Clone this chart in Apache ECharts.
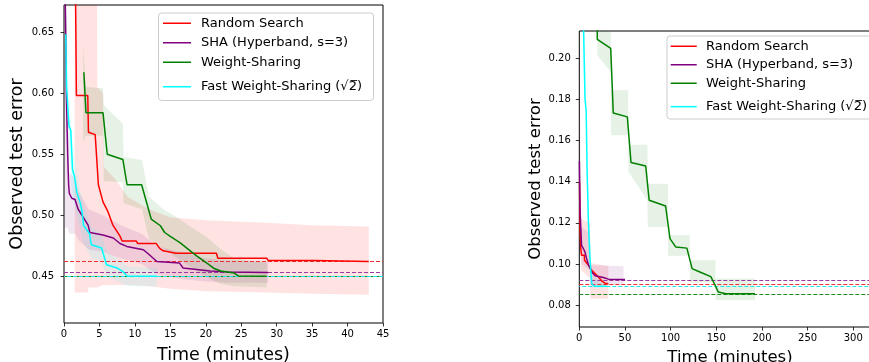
<!DOCTYPE html>
<html>
<head>
<meta charset="utf-8">
<script src="https://cdn.jsdelivr.net/npm/echarts@6/dist/echarts.min.js"></script>
<style>html,body{margin:0;padding:0;background:#fff}#c{width:869px;height:362px}</style>
</head>
<body>
<div id="c"></div>
<script>
// ---------- DATA ----------
const seriesNames = ['Random Search', 'SHA (Hyperband, s=3)', 'Weight-Sharing', 'Fast Weight-Sharing (\u221A2\u0305)'];

const leftXRange = [0, 45];
const leftYRange = [0.412, 0.672];
const rightXRange = [0, 330];
const rightYRange = [0.0693, 0.2134];

const leftXTicks = [0, 5, 10, 15, 20, 25, 30, 35, 40, 45];
const leftYTicks = [0.45, 0.50, 0.55, 0.60, 0.65];
const rightXTicks = [0, 50, 100, 150, 200, 250, 300];
const rightYTicks = [0.08, 0.10, 0.12, 0.14, 0.16, 0.18, 0.20];

// left panel: [time, error]
const leftRandomSearch = [[1.6,0.70],[1.75,0.598],[3.35,0.598],[3.45,0.568],[4.4,0.566],[4.85,0.525],[5.5,0.511],[6.2,0.503],[6.9,0.492],[7.9,0.483],[8.2,0.479],[10.2,0.479],[10.4,0.477],[13.0,0.477],[13.5,0.473],[14.0,0.471],[15.8,0.469],[21.5,0.469],[21.7,0.465],[28.6,0.465],[28.8,0.463],[35.4,0.463],[35.5,0.4623],[43.0,0.4623]];
const leftSHA = [[0.05,0.72],[0.24,0.65],[0.33,0.60],[0.52,0.55],[0.65,0.525],[0.75,0.518],[1.1,0.514],[1.55,0.513],[2.0,0.505],[3.4,0.492],[3.65,0.486],[5.5,0.484],[6.95,0.4815],[7.9,0.477],[8.85,0.4746],[11.2,0.4719],[12.0,0.468],[13.1,0.4623],[16.3,0.461],[16.8,0.457],[20.6,0.4545],[22.9,0.4538],[28.8,0.4533]];
const leftWS = [[2.8,0.617],[3.1,0.584],[5.5,0.584],[6.1,0.55],[8.3,0.5457],[8.9,0.525],[10.95,0.525],[12.3,0.497],[13.6,0.4915],[14.2,0.486],[15.0,0.4828],[16.4,0.4775],[17.9,0.4705],[18.8,0.4664],[20.3,0.4603],[21.2,0.4565],[22.1,0.4545],[24.0,0.4528],[24.6,0.4505],[28.6,0.4503]];
const leftFastWS = [[0.25,0.648],[0.35,0.606],[0.6,0.605],[0.7,0.573],[0.95,0.570],[1.2,0.5375],[1.5,0.531],[1.8,0.519],[2.3,0.510],[2.55,0.503],[2.75,0.492],[3.6,0.485],[3.85,0.476],[5.3,0.4733],[6.0,0.4596],[7.5,0.4569],[8.3,0.4541],[8.9,0.4505],[13.1,0.4503]];

// left bands: [time, lower, upper]
const leftRandomSearchBand = [[1.5,0.437,0.75],[3.4,0.437,0.75],[3.45,0.441,0.75],[4.6,0.441,0.75],[4.7,0.441,0.605],[5.5,0.443,0.60],[5.6,0.443,0.54],[7.2,0.443,0.53],[9,0.443,0.515],[12,0.442,0.505],[15,0.440,0.4985],[20,0.438,0.496],[28.6,0.437,0.494],[35,0.436,0.492],[43,0.435,0.491]];
const leftSHABand = [[0.1,0.49,0.75],[0.5,0.49,0.6],[0.7,0.485,0.535],[1.6,0.485,0.53],[2.0,0.48,0.52],[3.5,0.472,0.505],[5.5,0.47,0.50],[8,0.465,0.492],[11,0.46,0.485],[13,0.452,0.475],[16.5,0.448,0.47],[20,0.446,0.465],[23,0.445,0.463],[28.8,0.445,0.462]];
const leftWSBand = [[2.7,0.56,0.64],[3.1,0.565,0.605],[5.5,0.565,0.604],[5.6,0.528,0.59],[8.3,0.527,0.575],[8.4,0.51,0.548],[11.0,0.505,0.545],[12.0,0.48,0.515],[14,0.473,0.505],[16,0.465,0.498],[18,0.457,0.49],[20,0.45,0.483],[22,0.444,0.473],[24,0.442,0.465],[28.6,0.441,0.461]];
const leftFastWSBand = [[0.25,0.62,0.68],[0.7,0.55,0.6],[1.2,0.515,0.56],[1.8,0.50,0.535],[2.7,0.478,0.51],[3.9,0.465,0.49],[5.3,0.462,0.485],[6.0,0.45,0.47],[7.3,0.447,0.466],[8.3,0.444,0.462],[9.0,0.442,0.458],[13.1,0.442,0.457]];
const leftBest = [0.4623, 0.4533, 0.4503, 0.4503];

// right panel
const rightRandomSearch = [[0.2,0.14],[0.8,0.118],[1.5,0.108],[2.5,0.1042],[5.6,0.1042],[5.7,0.1018],[7.5,0.1009],[11.7,0.0985],[13.6,0.0969],[17.2,0.0953],[20.8,0.0936],[24.5,0.0918],[28.1,0.0906],[31.8,0.0904]];
const rightSHA = [[0.1,0.15],[0.4,0.1407],[0.8,0.1261],[2.5,0.109],[4.4,0.1075],[6.2,0.1058],[8.0,0.1026],[9.9,0.0997],[13.6,0.0961],[17.2,0.0943],[26.3,0.0934],[32,0.0926],[50,0.0924]];
const rightWS = [[19.6,0.23],[19.7,0.2093],[34.4,0.2049],[37.2,0.1735],[52.6,0.1716],[56.6,0.1494],[72.7,0.1477],[76.5,0.131],[94.5,0.1282],[99.3,0.1123],[105.5,0.1083],[117.8,0.1077],[123.5,0.0977],[132,0.0961],[144,0.0938],[148.3,0.0900],[152.2,0.0863],[160.5,0.0855],[192.4,0.0855]];
const rightFastWS = [[4.2,0.25],[4.7,0.2134],[6.3,0.1797],[7.5,0.1748],[8.6,0.1445],[9.9,0.1213],[11.7,0.1026],[13.6,0.0904],[16.5,0.0891],[30,0.0891]];

const rightRandomSearchBand = [[0.1,0.12,0.2],[0.8,0.11,0.175],[2,0.097,0.122],[11.7,0.093,0.12],[11.8,0.083,0.1005],[31.8,0.083,0.099]];
const rightSHABand = [[0.1,0.125,0.17],[0.8,0.112,0.14],[2.5,0.1,0.118],[11.7,0.097,0.115],[11.8,0.0896,0.0995],[48.5,0.0896,0.0989]];
const rightWSBand = [[19.6,0.2016,0.25],[34.5,0.1935,0.25],[34.6,0.1627,0.1845],[53.5,0.1627,0.1845],[53.7,0.145,0.158],[74.5,0.131,0.158],[75,0.118,0.139],[97,0.118,0.139],[97.2,0.104,0.114],[121,0.104,0.114],[121.2,0.091,0.1018],[149,0.091,0.1018],[149.2,0.0823,0.0929],[192.4,0.0823,0.0929]];
const rightFastWSBand = [[4.2,0.24,0.26],[8.6,0.14,0.15],[13.6,0.088,0.094],[30,0.0885,0.0897]];
const rightBest = [0.0904, 0.0924, 0.0856, 0.0891];

// ---------- STYLE ----------
const FONT = 'DejaVu Sans';
const lineColors = ['#ff0000', '#800080', '#008000', '#00ffff'];
const dashColors = ['#f03030', '#9a3a9a', '#1a8a1a', '#20e8e8'];
const bandColors = ['rgba(255,0,0,0.11)', 'rgba(128,0,128,0.10)', 'rgba(0,128,0,0.10)', 'rgba(0,255,255,0.10)'];

function makeBand(band, color) {
  return function (params, api) {
    if (params.dataIndex !== 0) return null;
    const pts = [];
    for (let i = 0; i < band.length; i++) pts.push(api.coord([band[i][0], band[i][2]]));
    for (let i = band.length - 1; i >= 0; i--) pts.push(api.coord([band[i][0], band[i][1]]));
    const cs = params.coordSys;
    return {
      type: 'group',
      clipPath: {type: 'rect', shape: {x: cs.x, y: cs.y, width: cs.width, height: cs.height}},
      children: [{type: 'polygon', shape: {points: pts}, style: {fill: color, stroke: null}}]
    };
  };
}

function makeDash(v, xr, color, offset) {
  return function (params, api) {
    if (params.dataIndex !== 0) return null;
    const a = api.coord([xr[0], v]);
    const b = api.coord([xr[1], v]);
    const y = Math.round(a[1]) + 0.5;
    return {
      type: 'line', shape: {x1: a[0], y1: y, x2: b[0], y2: y},
      style: {stroke: color, lineWidth: 1.1, lineDash: [4, 2], lineDashOffset: offset, fill: null}
    };
  };
}

function xAxisCfg(gi, range, ticks, gap, size) {
  return {
    type: 'value', gridIndex: gi, min: range[0], max: range[1],
    name: 'Time (minutes)', nameLocation: 'middle', nameGap: gap,
    nameTextStyle: {fontFamily: FONT, fontSize: size, color: '#000'},
    axisLine: {show: false},
    axisTick: {show: true, inside: false, length: 3.5, lineStyle: {color: '#000', width: 0.8}, customValues: ticks},
    axisLabel: {customValues: ticks, fontFamily: FONT, fontSize: 10, color: '#000', margin: 6},
    splitLine: {show: false}
  };
}
function yAxisCfg(gi, range, ticks, gap, size, margin) {
  return {
    type: 'value', gridIndex: gi, min: range[0], max: range[1],
    name: 'Observed test error', nameLocation: 'middle', nameGap: gap,
    nameTextStyle: {fontFamily: FONT, fontSize: size, color: '#000'},
    axisLine: {show: false},
    axisTick: {show: true, inside: false, length: 3.5, lineStyle: {color: '#000', width: 0.8}, customValues: ticks},
    axisLabel: {customValues: ticks, fontFamily: FONT, fontSize: 10, color: '#000', margin: margin,
      formatter: function (v) { return v.toFixed(2); }},
    splitLine: {show: false}
  };
}

const panels = [
  {lines: [leftRandomSearch, leftSHA, leftWS, leftFastWS], bands: [leftRandomSearchBand, leftSHABand, leftWSBand, leftFastWSBand], best: leftBest, xr: leftXRange},
  {lines: [rightRandomSearch, rightSHA, rightWS, rightFastWS], bands: [rightRandomSearchBand, rightSHABand, rightWSBand, rightFastWSBand], best: rightBest, xr: rightXRange}
];

const series = [];
panels.forEach(function (p, gi) {
  p.bands.forEach(function (b, k) {
    series.push({
      type: 'custom', name: 'band' + gi + '_' + k, xAxisIndex: gi, yAxisIndex: gi,
      data: b, encode: {x: 0, y: [1, 2]}, renderItem: makeBand(b, bandColors[k]), silent: true, z: 1
    });
  });
  // dashed best-value lines across the panel
  p.best.forEach(function (v, k) {
    series.push({
      type: 'custom', name: 'best' + gi + '_' + k, xAxisIndex: gi, yAxisIndex: gi,
      data: [[p.xr[0], v], [p.xr[1], v]], encode: {x: 0, y: 1},
      renderItem: makeDash(v, p.xr, dashColors[k], k === 3 ? 3 : 0), silent: true, z: 2
    });
  });
  p.lines.forEach(function (d, k) {
    series.push({
      type: 'line', name: seriesNames[k], xAxisIndex: gi, yAxisIndex: gi,
      data: d, symbol: 'none', showSymbol: false, clip: true, z: 3,
      lineStyle: {color: lineColors[k], width: 1.5}, itemStyle: {color: lineColors[k]}
    });
  });
});

function legendCfg(names, left, top, lh, iw, tp) {
  return {
    left: left, top: top, orient: 'vertical', data: names,
    icon: 'rect', itemWidth: iw, itemHeight: 1.5, itemGap: 0,
    padding: 0, z: 5,
    textStyle: {fontFamily: FONT, fontSize: 13, color: '#000', lineHeight: lh, padding: [0, 0, 0, tp]},
    selectedMode: false
  };
}

const option = {
  animation: false,
  backgroundColor: '#ffffff',
  grid: [
    {left: 64, top: 5, width: 319, height: 318, show: true, borderColor: '#000', borderWidth: 1, backgroundColor: 'transparent', outerBoundsMode: 'none'},
    {left: 579.3, top: 31, width: 301.4, height: 296, show: true, borderColor: '#000', borderWidth: 1, backgroundColor: 'transparent', outerBoundsMode: 'none'}
  ],
  xAxis: [xAxisCfg(0, leftXRange, leftXTicks, 23, 17.5), xAxisCfg(1, rightXRange, rightXTicks, 22, 16.5)],
  yAxis: [yAxisCfg(0, leftYRange, leftYTicks, 38, 17.5, 10), yAxisCfg(1, rightYRange, rightYTicks, 30.5, 16.5, 8.5)],
  graphic: [
    {type: 'rect', left: 158, top: 12.5, z: 4, shape: {width: 215, height: 87.5, r: 3}, style: {fill: 'rgba(255,255,255,0.8)', stroke: '#cccccc', lineWidth: 1}},
    {type: 'rect', left: 666.5, top: 35.5, z: 4, shape: {width: 215, height: 83, r: 3}, style: {fill: 'rgba(255,255,255,0.8)', stroke: '#cccccc', lineWidth: 1}}
  ],
  legend: [
    legendCfg(seriesNames.slice(0, 3), 163, 13.5, 19.5, 28, 5),
    legendCfg(seriesNames.slice(3), 163, 77, 19.5, 28, 5),
    legendCfg(seriesNames.slice(0, 3), 670.7, 37, 18.5, 26, 4.3),
    legendCfg(seriesNames.slice(3), 670.7, 97.4, 18.5, 26, 4.3)
  ],
  series: series
};

const chart = echarts.init(document.getElementById('c'), null, {renderer: 'canvas'});
chart.setOption(option);
</script>
</body>
</html>
